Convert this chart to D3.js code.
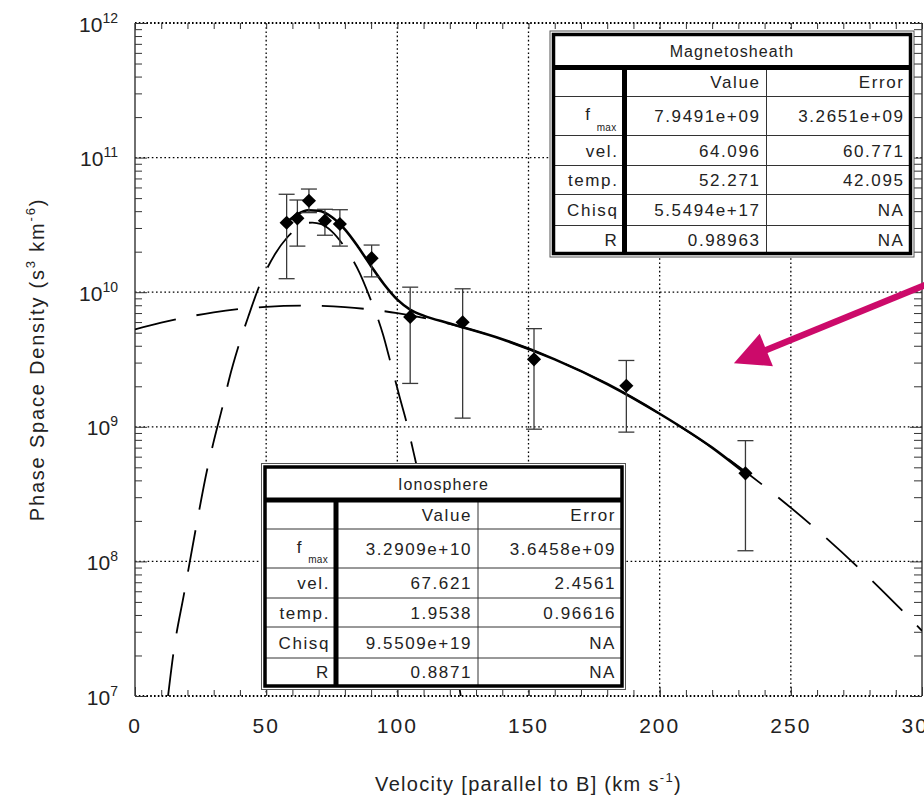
<!DOCTYPE html>
<html lang="en">
<head>
<meta charset="UTF-8" />
<title>Phase Space Density vs parallel velocity</title>
<style>
  body {
    margin: 0;
    background: #ffffff;
  }
  svg {
    display: block;
    font-family: 'Liberation Sans', Arial, Helvetica, sans-serif;
    fill: #222;
  }
  .grid line {
    stroke: #000;
    stroke-width: 1.3;
    stroke-dasharray: 1.6 2.6;
  }
  .frame-dotted {
    stroke: #000;
    stroke-width: 2;
    stroke-dasharray: 1.6 2.2;
  }
  .tick-axis line { stroke: #333; stroke-width: 1; }
  .tick-axis path { display: none; }
  .curve { fill: none; stroke: #000; }
  .fit-part { stroke-width: 1.8; stroke-dasharray: 42 21; }
  .fit-sum { stroke-width: 2.6; }
  .errbar { stroke: #3a3a3a; stroke-width: 1.3; }
  .tbl-thin { stroke: #333; stroke-width: 1; }
  .tbl-thick { stroke: #000; stroke-width: 5; }
  .tbl-text { font-size: 17px; letter-spacing: 1.6px; fill: #222; }
  .tbl-title { font-size: 16px; letter-spacing: 1.1px; }
</style>
<script src="https://d3js.org/d3.v7.min.js"></script>
</head>
<body>
<div id="chart"></div>
<script>
  // ---- data ----
  // measured points with error bars
  const velocity = [57.8, 61.9, 66.3, 72.4, 78.1, 90.2, 104.9, 124.9, 152.1, 187.3, 232.7];
  const psd      = [3.28e10, 3.54e10, 4.78e10, 3.40e10, 3.21e10, 1.79e10, 6.55e9, 5.98e9, 3.17e9, 2.02e9, 4.51e8];
  const psdHigh  = [5.34e10, 4.84e10, 5.84e10, 4.13e10, 4.10e10, 2.24e10, 1.09e10, 1.06e10, 5.36e9, 3.11e9, 7.89e8];
  const psdLow   = [1.26e10, 2.20e10, 3.90e10, 2.65e10, 2.20e10, 1.30e10, 2.10e9, 1.16e9, 9.6e8, 9.13e8, 1.20e8];

  // ionosphere fit (dashed, narrow)
  const ionoVel = [12.6, 14.6, 18.8, 23.2, 27.6, 29.8, 33.7, 35.8, 40, 43.2, 48.3, 53.4, 58, 62, 64.8, 67.6,
                   71, 75, 80, 85.7, 88.9, 94.6, 96.9, 101, 103.3, 107.1, 112, 117, 122, 125];
  const ionoPsd = [1.0e7, 2.05e7, 5.9e7, 1.76e8, 4.9e8, 7.5e8, 1.5e9, 2.23e9, 4.3e9, 6.6e9, 1.23e10, 1.92e10,
                   2.55e10, 3.0e10, 3.25e10, 3.29e10, 3.2e10, 2.83e10, 2.15e10, 1.38e10, 9.8e9, 4.8e9, 3.28e9,
                   1.63e9, 1.12e9, 5.4e8, 2.0e8, 6.5e7, 1.8e7, 8e6];

  // magnetosheath fit (dashed, broad)
  const sheathVel = [0, 10, 20, 30, 40, 50, 64, 80, 100, 120, 140, 160, 180, 200, 220, 240, 260, 280, 300];
  const sheathPsd = [5.3e9, 5.93e9, 6.55e9, 7.08e9, 7.5e9, 7.79e9, 7.95e9, 7.75e9, 6.99e9, 5.82e9, 4.47e9,
                     3.17e9, 2.08e9, 1.25e9, 7.0e8, 3.6e8, 1.71e8, 7.5e7, 3.05e7];

  // combined fit (solid)
  const sumVel = [57.8, 62, 66, 70, 75, 80, 85, 90, 95, 100, 105, 110, 120, 140, 160, 180, 200, 220, 232.7];
  const sumPsd = [3.3e10, 3.8e10, 4.06e10, 4.03e10, 3.62e10, 2.93e10, 2.18e10, 1.56e10, 1.14e10, 8.8e9,
                  7.4e9, 6.7e9, 5.85e9, 4.47e9, 3.17e9, 2.08e9, 1.25e9, 7.0e8, 4.51e8];

  // axis ticks
  const xMajor = [0, 50, 100, 150, 200, 250, 300];
  const decades = [1e7, 1e8, 1e9, 1e10, 1e11, 1e12];
  const exponents = ['7', '8', '9', '10', '11', '12'];

  // fit tables
  const rowLabels = ['f', 'vel.', 'temp.', 'Chisq', 'R'];
  const sheathValue = ['7.9491e+09', '64.096', '52.271', '5.5494e+17', '0.98963'];
  const sheathError = ['3.2651e+09', '60.771', '42.095', 'NA', 'NA'];
  const ionoValue   = ['3.2909e+10', '67.621', '1.9538', '9.5509e+19', '0.8871'];
  const ionoError   = ['3.6458e+09', '2.4561', '0.96616', 'NA', 'NA'];

  // arrow annotation, in data units (tail, tip)
  const arrowTail = [304.9, 1.21e10];
  const arrowTip  = [228.3, 2.97e9];

  // ---- layout ----
  const W = 924, H = 801;
  const plot = { left: 135, right: 922, top: 23, bottom: 696 };

  const x = d3.scaleLinear().domain([0, 300]).range([plot.left, plot.right]);
  const y = d3.scaleLog().domain([1e7, 1e12]).range([plot.bottom, plot.top]);

  const svg = d3.select('#chart').append('svg')
    .attr('width', W)
    .attr('height', H);

  svg.append('defs').append('clipPath').attr('id', 'plot-clip')
    .append('rect')
    .attr('x', plot.left).attr('y', plot.top)
    .attr('width', plot.right - plot.left)
    .attr('height', plot.bottom - plot.top);

  // grid
  const grid = svg.append('g').attr('class', 'grid');
  grid.selectAll('line.gv').data(xMajor.slice(1, -1)).join('line')
    .attr('class', 'gv')
    .attr('x1', d => x(d)).attr('x2', d => x(d))
    .attr('y1', plot.top).attr('y2', plot.bottom);
  grid.selectAll('line.gh').data(decades.slice(1, -1)).join('line')
    .attr('class', 'gh')
    .attr('x1', plot.left).attr('x2', plot.right)
    .attr('y1', d => y(d)).attr('y2', d => y(d));

  // frame: top & bottom dotted, left & right solid
  svg.selectAll('line.frame-dotted').data([1e12, 1e7]).join('line')
    .attr('class', 'frame-dotted')
    .attr('x1', plot.left).attr('x2', plot.right)
    .attr('y1', d => y(d)).attr('y2', d => y(d));
  svg.selectAll('line.frame-solid').data([0, 300]).join('line')
    .attr('class', 'frame-solid')
    .attr('stroke', '#333').attr('stroke-width', 1.4)
    .attr('x1', d => x(d)).attr('x2', d => x(d))
    .attr('y1', plot.top).attr('y2', plot.bottom);

  // tick marks (all pointing inward)
  const xMinor = d3.range(0, 301, 10);
  const yMinor = [];
  decades.slice(0, -1).forEach(d => d3.range(2, 10).forEach(m => yMinor.push(d * m)));

  const tickAxis = (axis, tx, ty) => svg.append('g')
    .attr('class', 'tick-axis')
    .attr('transform', `translate(${tx},${ty})`)
    .call(axis);

  tickAxis(d3.axisBottom(x).tickValues(xMinor).tickSize(-6).tickFormat(''), 0, plot.bottom);
  tickAxis(d3.axisBottom(x).tickValues(xMajor).tickSize(-9).tickFormat(''), 0, plot.bottom);
  tickAxis(d3.axisTop(x).tickValues(xMinor).tickSize(-6).tickFormat(''), 0, plot.top);
  tickAxis(d3.axisLeft(y).tickValues(yMinor).tickSize(-7).tickFormat(''), plot.left, 0);
  tickAxis(d3.axisLeft(y).tickValues(decades).tickSize(-12).tickFormat(''), plot.left, 0);
  tickAxis(d3.axisRight(y).tickValues(yMinor).tickSize(-8).tickFormat(''), plot.right, 0);
  tickAxis(d3.axisRight(y).tickValues(decades).tickSize(-12).tickFormat(''), plot.right, 0);

  // x tick labels (the last one runs off the right edge, as in the figure)
  svg.append('g').selectAll('text').data(xMajor).join('text')
    .attr('x', d => x(d))
    .attr('y', plot.bottom + 37)
    .attr('text-anchor', 'middle')
    .attr('font-size', 21)
    .attr('letter-spacing', 2)
    .attr('fill', '#222')
    .text(d => d);

  // y tick labels 10^n
  const yLab = svg.append('g').selectAll('text').data(decades).join('text')
    .attr('x', 118)
    .attr('y', d => y(d) + 8.5)
    .attr('text-anchor', 'end')
    .attr('fill', '#222');
  yLab.append('tspan').attr('font-size', 21).text('10');
  yLab.append('tspan').attr('font-size', 14).attr('dy', -9)
    .text((d, i) => exponents[i]);

  // axis titles
  const xTitle = svg.append('text')
    .attr('x', (plot.left + plot.right) / 2)
    .attr('y', 791)
    .attr('text-anchor', 'middle')
    .attr('font-size', 20)
    .attr('letter-spacing', 1.3)
    .attr('fill', '#222');
  xTitle.append('tspan').text('Velocity [parallel to B] (km s');
  xTitle.append('tspan').attr('font-size', 13).attr('dy', -9).text('-1');
  xTitle.append('tspan').attr('dy', 9).text(')');

  const yTitle = svg.append('text')
    .attr('transform', `translate(44,${(plot.top + plot.bottom) / 2}) rotate(-90)`)
    .attr('text-anchor', 'middle')
    .attr('font-size', 20)
    .attr('letter-spacing', 1.8)
    .attr('fill', '#222');
  yTitle.append('tspan').text('Phase Space Density (s');
  yTitle.append('tspan').attr('font-size', 13).attr('dy', -9).text('3');
  yTitle.append('tspan').attr('dy', 9).text(' km');
  yTitle.append('tspan').attr('font-size', 13).attr('dy', -9).text('-6');
  yTitle.append('tspan').attr('dy', 9).text(')');

  // ---- curves ----
  const line = d3.line()
    .x(d => x(d[0]))
    .y(d => y(d[1]))
    .curve(d3.curveMonotoneX);

  const curves = svg.append('g').attr('clip-path', 'url(#plot-clip)');
  curves.append('path')
    .attr('class', 'curve fit-part')
    .attr('d', line(d3.zip(sheathVel, sheathPsd)));
  curves.append('path')
    .attr('class', 'curve fit-part')
    .attr('d', line(d3.zip(ionoVel, ionoPsd)));
  curves.append('path')
    .attr('class', 'curve fit-sum')
    .attr('d', line(d3.zip(sumVel, sumPsd)));

  // ---- error bars & markers ----
  const pts = velocity.map((v, i) => ({ v, f: psd[i], hi: psdHigh[i], lo: psdLow[i] }));
  const eb = svg.append('g');
  eb.selectAll('line.stem').data(pts).join('line')
    .attr('class', 'errbar stem')
    .attr('x1', d => x(d.v)).attr('x2', d => x(d.v))
    .attr('y1', d => y(d.hi)).attr('y2', d => y(d.lo));
  ['hi', 'lo'].forEach(k => {
    eb.selectAll('line.cap-' + k).data(pts).join('line')
      .attr('class', 'errbar cap-' + k)
      .attr('x1', d => x(d.v) - 8).attr('x2', d => x(d.v) + 8)
      .attr('y1', d => y(d[k])).attr('y2', d => y(d[k]));
  });

  svg.append('g').selectAll('path').data(pts).join('path')
    .attr('d', d3.symbol(d3.symbolSquare, 100))
    .attr('transform', d => `translate(${x(d.v)},${y(d.f)}) rotate(45)`)
    .attr('fill', '#000');

  // ---- fit tables ----
  const colW = [71, 142, 144];
  const rowH = [33, 29, 39, 30, 29, 31, 28];

  function drawTable(x0, y0, title, values, errors) {
    const tw = d3.sum(colW), th = d3.sum(rowH);
    const rowY = Array.from(d3.cumsum([0].concat(rowH)));
    const colX = Array.from(d3.cumsum([0].concat(colW)));
    const g = svg.append('g').attr('transform', `translate(${x0},${y0})`);

    g.append('rect')
      .attr('x', -3.5).attr('y', -3.5)
      .attr('width', tw + 7).attr('height', th + 7)
      .attr('fill', '#fff').attr('stroke', '#555').attr('stroke-width', 1);

    g.selectAll('line.row').data(rowY.slice(2, -1)).join('line')
      .attr('class', 'tbl-thin')
      .attr('x1', 0).attr('x2', tw)
      .attr('y1', d => d).attr('y2', d => d);
    g.append('line').attr('class', 'tbl-thin').attr('stroke-width', 1.5)
      .attr('x1', colX[2]).attr('x2', colX[2])
      .attr('y1', rowY[1]).attr('y2', th);
    g.append('line').attr('class', 'tbl-thick')
      .attr('x1', colX[1]).attr('x2', colX[1])
      .attr('y1', rowY[1]).attr('y2', th);
    g.append('line').attr('class', 'tbl-thick')
      .attr('x1', 0).attr('x2', tw)
      .attr('y1', rowY[1]).attr('y2', rowY[1]);
    g.append('rect')
      .attr('width', tw).attr('height', th)
      .attr('fill', 'none').attr('stroke', '#000').attr('stroke-width', 3.5);

    const mid = i => (rowY[i] + rowY[i + 1]) / 2 + 6;

    g.append('text').attr('class', 'tbl-text tbl-title')
      .attr('x', tw / 2).attr('y', mid(0))
      .attr('text-anchor', 'middle')
      .text(title);
    g.append('text').attr('class', 'tbl-text')
      .attr('x', colX[2] - 6).attr('y', mid(1))
      .attr('text-anchor', 'end').text('Value');
    g.append('text').attr('class', 'tbl-text')
      .attr('x', colX[3] - 6).attr('y', mid(1))
      .attr('text-anchor', 'end').text('Error');

    rowLabels.forEach((lab, j) => {
      const r = j + 2;
      if (j === 0) {
        g.append('text').attr('class', 'tbl-text')
          .attr('x', colX[1] - 33).attr('y', rowY[r] + 23.5)
          .attr('text-anchor', 'end').text(lab);
        g.append('text').attr('class', 'tbl-text')
          .attr('x', colX[1] - 8).attr('y', rowY[r] + 34)
          .attr('text-anchor', 'end')
          .style('font-size', '10px').style('letter-spacing', '0.3px')
          .text('max');
      } else {
        g.append('text').attr('class', 'tbl-text')
          .attr('x', colX[1] - 6).attr('y', mid(r))
          .attr('text-anchor', 'end').text(lab);
      }
      g.append('text').attr('class', 'tbl-text')
        .attr('x', colX[2] - 6).attr('y', mid(r))
        .attr('text-anchor', 'end').text(values[j]);
      g.append('text').attr('class', 'tbl-text')
        .attr('x', colX[3] - 6).attr('y', mid(r))
        .attr('text-anchor', 'end').text(errors[j]);
    });
  }

  drawTable(553.5, 34.5, 'Magnetosheath', sheathValue, sheathError);
  drawTable(265, 467, 'Ionosphere', ionoValue, ionoError);

  // ---- arrow ----
  const tail = [x(arrowTail[0]), y(arrowTail[1])];
  const tip = [x(arrowTip[0]), y(arrowTip[1])];
  const len = Math.hypot(tail[0] - tip[0], tail[1] - tip[1]);
  const ux = (tail[0] - tip[0]) / len, uy = (tail[1] - tip[1]) / len;
  const headL = 35, headW = 17.5;
  const base = [tip[0] + ux * headL, tip[1] + uy * headL];
  const arrow = svg.append('g').attr('fill', '#cc0a6a').attr('stroke', '#cc0a6a');
  arrow.append('line')
    .attr('x1', tail[0]).attr('y1', tail[1])
    .attr('x2', base[0] - ux * 2).attr('y2', base[1] - uy * 2)
    .attr('stroke-width', 6.5);
  arrow.append('polygon')
    .attr('stroke', 'none')
    .attr('points', [
      tip,
      [base[0] - uy * headW, base[1] + ux * headW],
      [base[0] + uy * headW, base[1] - ux * headW]
    ].map(p => p.join(',')).join(' '));
</script>
</body>
</html>
